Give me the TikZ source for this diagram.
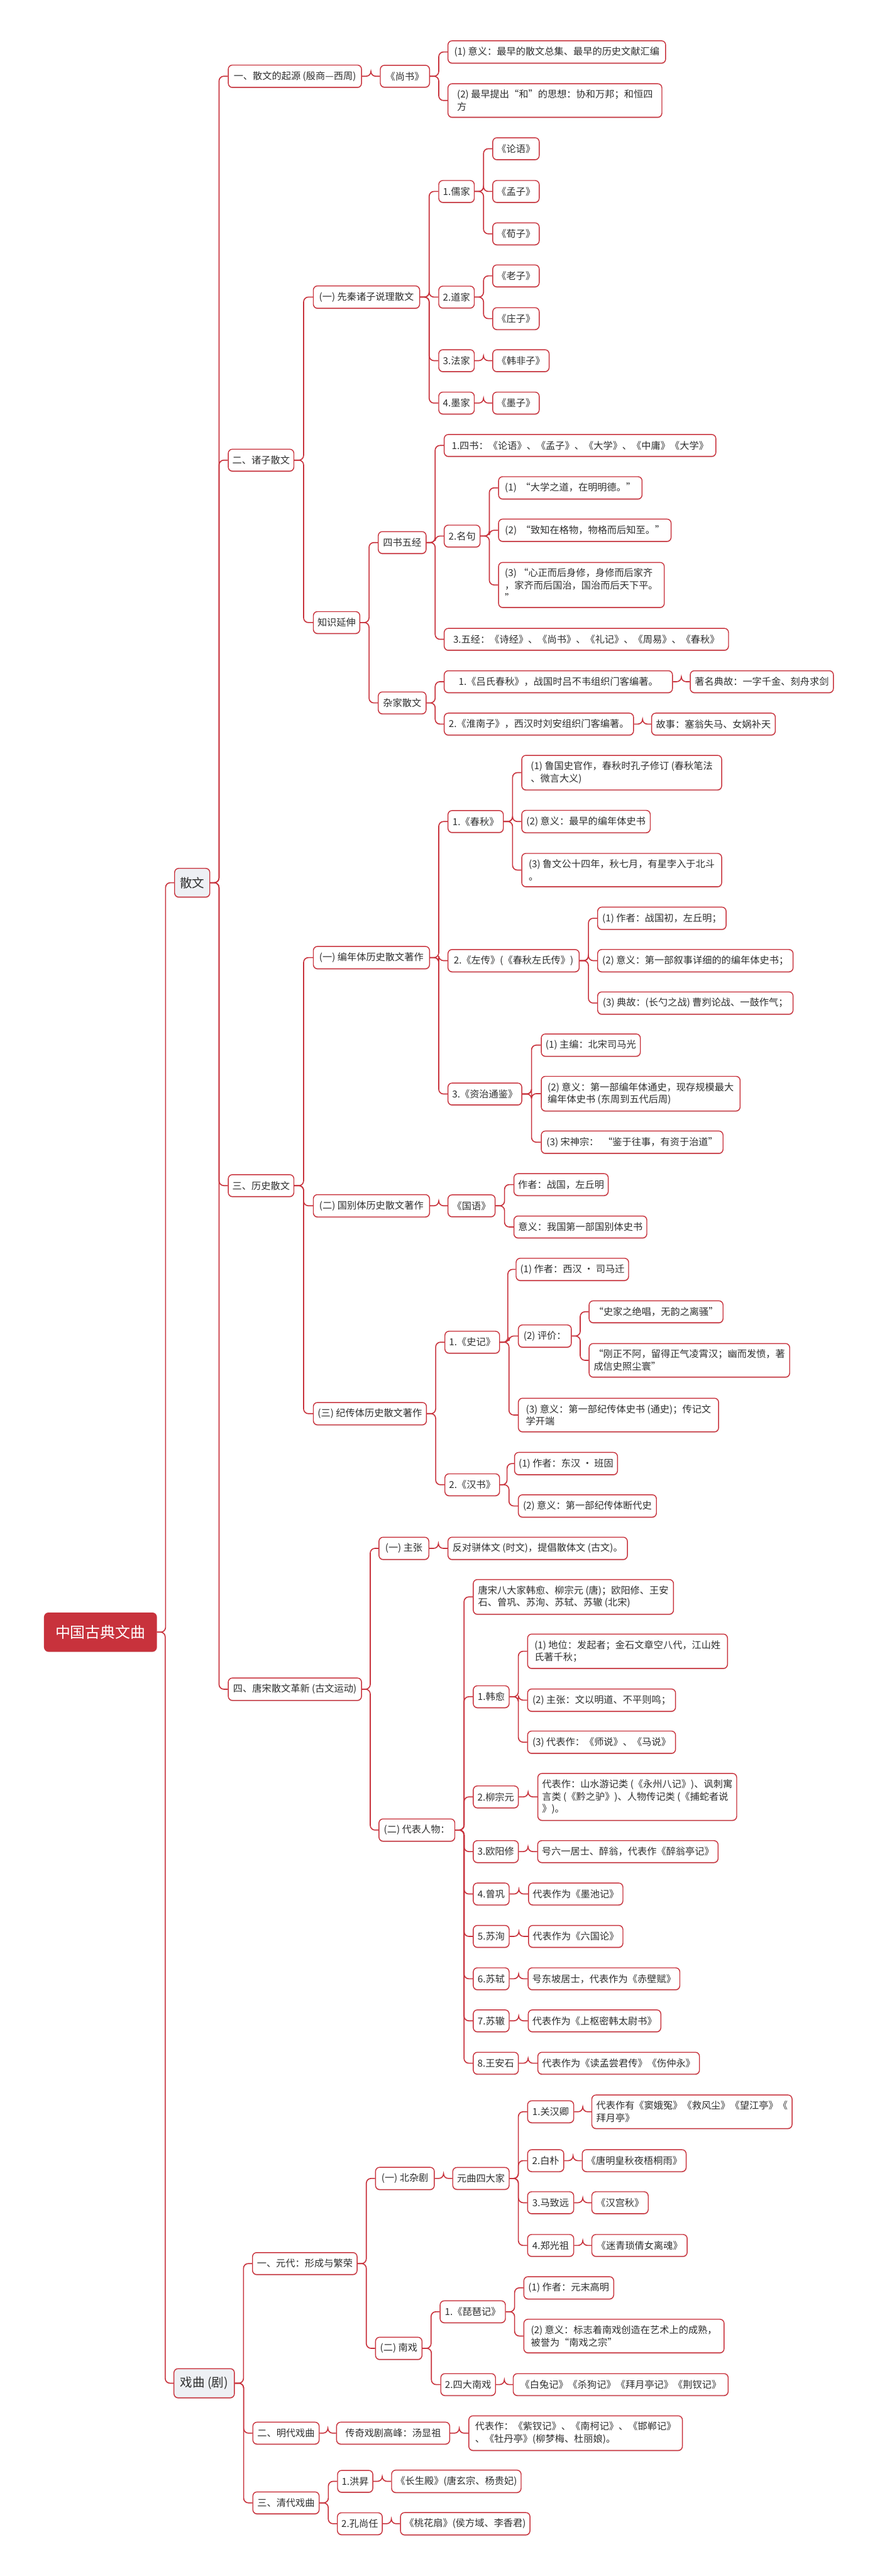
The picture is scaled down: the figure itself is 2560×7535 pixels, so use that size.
\documentclass[tikz,border=0pt]{standalone}
\usepackage{fontspec}
\newfontfamily\cjk{Noto Sans CJK SC}
\usetikzlibrary{calc,shadows}
\definecolor{rd}{HTML}{C8323C}
\definecolor{txt}{HTML}{2E2E2E}
\definecolor{lone}{HTML}{EEF0F4}
\tikzset{
  nd/.style={draw=rd, line width=1.3pt, rounded corners=6pt, fill=white,
    font=\cjk\fontsize{14pt}{18pt}\selectfont, text=txt, align=left,
    inner xsep=6pt, inner ysep=9pt, minimum height=32pt,
    drop shadow={shadow xshift=0pt, shadow yshift=-1.2pt, opacity=0.3, fill=rd!70!black}},
  lv1/.style={nd, fill=lone, font=\cjk\fontsize{18pt}{22pt}\selectfont, inner ysep=12pt, minimum height=42pt},
  rt/.style={nd, fill=rd, text=white, font=\cjk\fontsize{22pt}{26pt}\selectfont, inner ysep=16pt, minimum height=56pt},
  conn/.style={draw=rd, line width=1.5pt, rounded corners=7pt},
}
\newcommand\bx[6][nd]{\node[#1, minimum width={(#4-#3)*0.5pt}] (#2) at ({(#3+#4)/2},#5) {#6};}
\newcommand\cn[2]{\draw[conn] (#1.east) -- ($(#1.east)!0.5!(#1.east -| #2.west)$) |- (#2.west);}
\newcommand\cns[2]{\foreach \cc in {#2}{\cn{#1}{\cc}}}
\begin{document}
\begin{tikzpicture}[x=0.5pt,y=-0.5pt]
\fill[white] (0,0) rectangle (2560,7535);
\useasboundingbox (0,0) rectangle (2560,7535);

% root and level 1
\bx[rt]{root}{130}{458}{4774}{中国古典文曲}
\bx[lv1]{sw}{511}{614}{2582}{散文}
\bx[lv1]{xq}{509}{686}{6971}{戏曲 (剧)}

% 散文 level 2
\bx{a1}{668}{1058}{223}{一、散文的起源 (殷商—西周)}
\bx{a2}{668}{860}{1346}{二、诸子散文}
\bx{a3}{668}{860}{3468}{三、历史散文}
\bx{a4}{668}{1058}{4941}{四、唐宋散文革新 (古文运动)}

\bx{a1s}{1113}{1257}{223}{《尚书》}
\bx{a1s1}{1311}{1948}{152}{(1) 意义：最早的散文总集、最早的历史文献汇编}
\bx{a1s2}{1311}{1937}{294}{(2) 最早提出“和”的思想：协和万邦；和恒四\\方}

\bx{b1}{917}{1228}{869}{(一) 先秦诸子说理散文}
\bx{b1a}{1284}{1388}{560}{1.儒家}
\bx{b1a1}{1442}{1578}{435}{《论语》}
\bx{b1a2}{1442}{1578}{560}{《孟子》}
\bx{b1a3}{1442}{1578}{684}{《荀子》}
\bx{b1b}{1284}{1388}{869}{2.道家}
\bx{b1b1}{1442}{1578}{807}{《老子》}
\bx{b1b2}{1442}{1578}{932}{《庄子》}
\bx{b1c}{1284}{1388}{1055}{3.法家}
\bx{b1c1}{1442}{1607}{1055}{《韩非子》}
\bx{b1d}{1284}{1388}{1179}{4.墨家}
\bx{b1d1}{1442}{1578}{1179}{《墨子》}
\bx{b2}{917}{1053}{1821}{知识延伸}
\bx{b2a}{1107}{1247}{1587}{四书五经}
\bx{c1}{1300}{2095}{1303}{1.四书：《论语》、《孟子》、《大学》、《中庸》《大学》}
\bx{c2}{1300}{1405}{1568}{2.名句}
\bx{c2a}{1459}{1879}{1427}{(1) \ “大学之道，在明明德。”}
\bx{c2b}{1459}{1964}{1551}{(2) \ “致知在格物，物格而后知至。”}
\bx{c2c}{1459}{1944}{1711}{(3) “心正而后身修，身修而后家齐\\，家齐而后国治，国治而后天下平。\\”}
\bx{c3}{1300}{2132}{1870}{3.五经：《诗经》、《尚书》、《礼记》、《周易》、《春秋》}
\bx{b2b}{1107}{1247}{2056}{杂家散文}
\bx{d1}{1300}{1968}{1994}{1.《吕氏春秋》，战国时吕不韦组织门客编著。}
\bx{d1a}{2020}{2439}{1994}{著名典故：一字千金、刻舟求剑}
\bx{d2}{1300}{1854}{2118}{2.《淮南子》，西汉时刘安组织门客编著。}
\bx{d2a}{1907}{2269}{2118}{故事：塞翁失马、女娲补天}

% 历史散文
\bx{e1}{917}{1257}{2801}{(一) 编年体历史散文著作}
\bx{e1a}{1311}{1473}{2403}{1.《春秋》}
\bx{e1a1}{1527}{2112}{2260}{(1) 鲁国史官作，春秋时孔子修订 (春秋笔法\\、微言大义)}
\bx{e1a2}{1527}{1903}{2403}{(2) 意义：最早的编年体史书}
\bx{e1a3}{1527}{2112}{2545}{(3) 鲁文公十四年，秋七月，有星孛入于北斗\\。}
\bx{e1b}{1311}{1695}{2810}{2.《左传》(《春秋左氏传》)}
\bx{e1b1}{1749}{2125}{2686}{(1) 作者：战国初，左丘明；}
\bx{e1b2}{1749}{2321}{2810}{(2) 意义：第一部叙事详细的的编年体史书；}
\bx{e1b3}{1749}{2321}{2934}{(3) 典故：(长勺之战) 曹刿论战、一鼓作气；}
\bx{e1c}{1311}{1527}{3200}{3.《资治通鉴》}
\bx{e1c1}{1584}{1874}{3057}{(1) 主编：北宋司马光}
\bx{e1c2}{1584}{2166}{3199}{(2) 意义：第一部编年体通史，现存规模最大\\编年体史书 (东周到五代后周)}
\bx{e1c3}{1584}{2116}{3341}{(3) 宋神宗： \ “鉴于往事，有资于治道”}
\bx{e2}{917}{1257}{3527}{(二) 国别体历史散文著作}
\bx{e2a}{1311}{1449}{3527}{《国语》}
\bx{e2a1}{1504}{1780}{3465}{作者：战国，左丘明}
\bx{e2a2}{1504}{1893}{3589}{意义：我国第一部国别体史书}
\bx{e3}{917}{1248}{4135}{(三) 纪传体历史散文著作}
\bx{e3a}{1302}{1462}{3926}{1.《史记》}
\bx{f1}{1517}{1833}{3713}{(1) 作者：西汉 · 司马迁}
\bx{f2}{1517}{1672}{3908}{(2) 评价：}
\bx{f2a}{1724}{2116}{3837}{“史家之绝唱，无韵之离骚”}
\bx{f2b}{1724}{2311}{3979}{“刚正不阿，留得正气凌霄汉；幽而发愤，著\\成信史照尘寰”}
\bx{f3}{1517}{2103}{4139}{(3) 意义：第一部纪传体史书 (通史)；传记文\\学开端}
\bx{e3b}{1302}{1462}{4343}{2.《汉书》}
\bx{e3b1}{1517}{1796}{4281}{(1) 作者：东汉 · 班固}
\bx{e3b2}{1517}{1921}{4405}{(2) 意义：第一部纪传体断代史}

% 唐宋散文革新
\bx{g1}{1109}{1255}{4529}{(一) 主张}
\bx{g1a}{1311}{1836}{4529}{反对骈体文 (时文)，提倡散体文 (古文)。}
\bx{g2}{1109}{1331}{5353}{(二) 代表人物：}
\bx{h0}{1385}{1971}{4671}{唐宋八大家韩愈、柳宗元 (唐)；欧阳修、王安\\石、曾巩、苏洵、苏轼、苏辙 (北宋)}
\bx{h1}{1385}{1490}{4963}{1.韩愈}
\bx{h1a}{1544}{2129}{4830}{(1) 地位：发起者；金石文章空八代，江山姓\\氏著千秋；}
\bx{h1b}{1544}{1977}{4973}{(2) 主张：文以明道、不平则鸣；}
\bx{h1c}{1544}{1977}{5096}{(3) 代表作：《师说》、《马说》}
\bx{h2}{1385}{1517}{5256}{2.柳宗元}
\bx{h2a}{1574}{2156}{5256}{代表作：山水游记类 (《永州八记》)、讽刺寓\\言类 (《黔之驴》)、人物传记类 (《捕蛇者说\\》)。}
\bx{h3}{1385}{1517}{5416}{3.欧阳修}
\bx{h3a}{1574}{2101}{5416}{号六一居士、醉翁，代表作《醉翁亭记》}
\bx{h4}{1385}{1490}{5540}{4.曾巩}
\bx{h4a}{1547}{1823}{5540}{代表作为《墨池记》}
\bx{h5}{1385}{1490}{5664}{5.苏洵}
\bx{h5a}{1547}{1823}{5664}{代表作为《六国论》}
\bx{h6}{1385}{1490}{5788}{6.苏轼}
\bx{h6a}{1547}{1988}{5788}{号东坡居士，代表作为《赤壁赋》}
\bx{h7}{1385}{1490}{5911}{7.苏辙}
\bx{h7a}{1547}{1933}{5911}{代表作为《上枢密韩太尉书》}
\bx{h8}{1385}{1517}{6035}{8.王安石}
\bx{h8a}{1574}{2047}{6035}{代表作为《读孟尝君传》《伤仲永》}

% 戏曲
\bx{k1}{739}{1045}{6621}{一、元代：形成与繁荣}
\bx{k1a}{1099}{1271}{6372}{(一) 北杂剧}
\bx{k1b}{1325}{1490}{6372}{元曲四大家}
\bx{m1}{1544}{1679}{6177}{1.关汉卿}
\bx{m1a}{1732}{2318}{6177}{代表作有《窦娥冤》《救风尘》《望江亭》《\\拜月亭》}
\bx{m2}{1544}{1650}{6320}{2.白朴}
\bx{m2a}{1704}{2008}{6320}{《唐明皇秋夜梧桐雨》}
\bx{m3}{1544}{1679}{6443}{3.马致远}
\bx{m3a}{1732}{1897}{6443}{《汉宫秋》}
\bx{m4}{1544}{1679}{6568}{4.郑光祖}
\bx{m4a}{1732}{2011}{6568}{《迷青琐倩女离魂》}
\bx{k1c}{1099}{1235}{6869}{(二) 南戏}
\bx{n1}{1288}{1479}{6762}{1.《琵琶记》}
\bx{n1a}{1533}{1796}{6692}{(1) 作者：元末高明}
\bx{n1b}{1533}{2119}{6833}{(2) 意义：标志着南戏创造在艺术上的成熟，\\被誉为“南戏之宗”}
\bx{n2}{1290}{1450}{6975}{2.四大南戏}
\bx{n2a}{1502}{2131}{6975}{《白兔记》《杀狗记》《拜月亭记》《荆钗记》}
\bx{k2}{740}{934}{7117}{二、明代戏曲}
\bx{k2a}{985}{1316}{7117}{传奇戏剧高峰：汤显祖}
\bx{k2b}{1372}{1997}{7117}{代表作：《紫钗记》、《南柯记》、《邯郸记》\\、《牡丹亭》(柳梦梅、杜丽娘)。}
\bx{k3}{740}{934}{7321}{三、清代戏曲}
\bx{p1}{988}{1091}{7258}{1.洪昇}
\bx{p1a}{1148}{1523}{7258}{《长生殿》(唐玄宗、杨贵妃)}
\bx{p2}{988}{1118}{7382}{2.孔尚任}
\bx{p2a}{1172}{1551}{7382}{《桃花扇》(侯方域、李香君)}

% connectors
\cns{root}{sw,xq}
\cns{sw}{a1,a2,a3,a4}
\cn{a1}{a1s}
\cns{a1s}{a1s1,a1s2}
\cns{a2}{b1,b2}
\cns{b1}{b1a,b1b,b1c,b1d}
\cns{b1a}{b1a1,b1a2,b1a3}
\cns{b1b}{b1b1,b1b2}
\cn{b1c}{b1c1}
\cn{b1d}{b1d1}
\cns{b2}{b2a,b2b}
\cns{b2a}{c1,c2,c3}
\cns{c2}{c2a,c2b,c2c}
\cns{b2b}{d1,d2}
\cn{d1}{d1a}
\cn{d2}{d2a}
\cns{a3}{e1,e2,e3}
\cns{e1}{e1a,e1b,e1c}
\cns{e1a}{e1a1,e1a2,e1a3}
\cns{e1b}{e1b1,e1b2,e1b3}
\cns{e1c}{e1c1,e1c2,e1c3}
\cn{e2}{e2a}
\cns{e2a}{e2a1,e2a2}
\cns{e3}{e3a,e3b}
\cns{e3a}{f1,f2,f3}
\cns{f2}{f2a,f2b}
\cns{e3b}{e3b1,e3b2}
\cns{a4}{g1,g2}
\cn{g1}{g1a}
\cns{g2}{h0,h1,h2,h3,h4,h5,h6,h7,h8}
\cns{h1}{h1a,h1b,h1c}
\cn{h2}{h2a}
\cn{h3}{h3a}
\cn{h4}{h4a}
\cn{h5}{h5a}
\cn{h6}{h6a}
\cn{h7}{h7a}
\cn{h8}{h8a}
\cns{xq}{k1,k2,k3}
\cns{k1}{k1a,k1c}
\cn{k1a}{k1b}
\cns{k1b}{m1,m2,m3,m4}
\cn{m1}{m1a}
\cn{m2}{m2a}
\cn{m3}{m3a}
\cn{m4}{m4a}
\cns{k1c}{n1,n2}
\cns{n1}{n1a,n1b}
\cn{n2}{n2a}
\cn{k2}{k2a}
\cn{k2a}{k2b}
\cns{k3}{p1,p2}
\cn{p1}{p1a}
\cn{p2}{p2a}
\end{tikzpicture}
\end{document}
